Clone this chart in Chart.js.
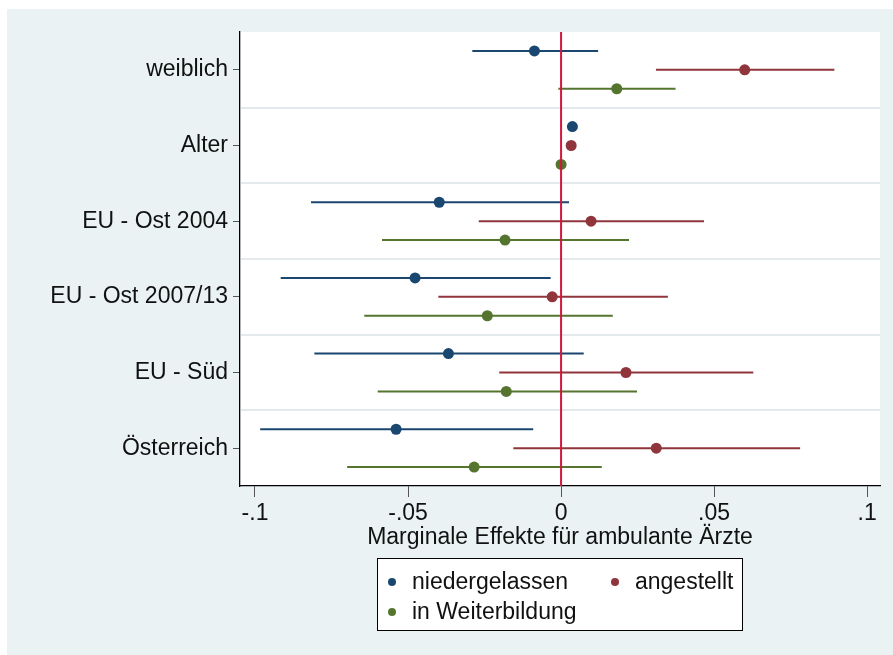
<!DOCTYPE html>
<html>
<head>
<meta charset="utf-8">
<script src="https://cdn.jsdelivr.net/npm/chart.js@4.4.0/dist/chart.umd.min.js"></script>
<style>
  html, body { margin: 0; padding: 0; background: #fff; }
  #wrap { width: 893px; height: 655px; }
</style>
</head>
<body>
<div id="wrap"><canvas id="coef-chart" width="893" height="655"></canvas></div>
<script>
// categories, top to bottom
var categories = ['weiblich', 'Alter', 'EU - Ost 2004', 'EU - Ost 2007/13', 'EU - Süd', 'Österreich'];
var xTicks = [-0.1, -0.05, 0, 0.05, 0.1];

// point estimates and confidence bounds per group
var niedergelassen   = [-0.0087, 0.0037, -0.0398, -0.0477, -0.0368, -0.0539];
var niedergelassenLo = [-0.0290, 0.0033, -0.0817, -0.0916, -0.0806, -0.0983];
var niedergelassenHi = [ 0.0121, 0.0041,  0.0026, -0.0034,  0.0074, -0.0091];

var angestellt   = [0.0600, 0.0033,  0.0098, -0.0029,  0.0212,  0.0311];
var angestelltLo = [0.0310, 0.0029, -0.0269, -0.0401, -0.0202, -0.0156];
var angestelltHi = [0.0893, 0.0037,  0.0467,  0.0349,  0.0628,  0.0781];

var weiterbildung   = [ 0.0182, 0.0000, -0.0183, -0.0241, -0.0179, -0.0284];
var weiterbildungLo = [-0.0009, -0.0004, -0.0585, -0.0643, -0.0599, -0.0699];
var weiterbildungHi = [ 0.0374, 0.0004,  0.0222,  0.0169,  0.0248,  0.0133];

var FONT = "'Liberation Sans', Arial, sans-serif";

function points(values, offset) {
	return values.map(function (v, i) { return {x: v, y: i + offset}; });
}

function fmtTick(v) {
	if (v === 0) return '0';
	return (v < 0 ? '-' : '') + String(Math.abs(v)).replace(/^0/, '');
}

var backgroundPlugin = {
	id: 'stataBackground',
	beforeDraw: function (chart) {
		var ctx = chart.ctx, a = chart.chartArea;
		ctx.save();
		ctx.fillStyle = '#eaf2f3';
		ctx.fillRect(7, 9, chart.width - 7, chart.height - 9);
		ctx.fillStyle = '#ffffff';
		ctx.fillRect(a.left, a.top, a.right - a.left, a.bottom - a.top);
		ctx.restore();
	},
	beforeDatasetsDraw: function (chart) {
		var ctx = chart.ctx, a = chart.chartArea;
		var yScale = chart.scales.y, xScale = chart.scales.x;
		ctx.save();
		// separators between the coefficient groups
		ctx.strokeStyle = '#e4eaeb';
		ctx.lineWidth = 2;
		for (var k = 0; k < categories.length - 1; k++) {
			var py = Math.round(yScale.getPixelForValue(k + 0.5));
			ctx.beginPath();
			ctx.moveTo(a.left + 1, py);
			ctx.lineTo(a.right, py);
			ctx.stroke();
		}
		// confidence intervals
		chart.data.datasets.forEach(function (ds) {
			ctx.strokeStyle = ds.borderColor;
			ctx.lineWidth = 2;
			ds.data.forEach(function (p, i) {
				var py = yScale.getPixelForValue(p.y);
				ctx.beginPath();
				ctx.moveTo(xScale.getPixelForValue(ds.lo[i]), py);
				ctx.lineTo(xScale.getPixelForValue(ds.hi[i]), py);
				ctx.stroke();
			});
		});
		ctx.restore();
	},
	afterDatasetsDraw: function (chart) {
		var ctx = chart.ctx, a = chart.chartArea;
		var px = chart.scales.x.getPixelForValue(0);
		ctx.save();
		ctx.strokeStyle = '#d2163e';
		ctx.lineWidth = 2;
		ctx.beginPath();
		ctx.moveTo(px, a.top);
		ctx.lineTo(px, a.bottom);
		ctx.stroke();
		ctx.restore();
	},
	afterDraw: function (chart) {
		// legend box like stata: two columns
		var ctx = chart.ctx;
		var ds = chart.data.datasets;
		var spots = [[392, 582], [615, 582], [392, 612]];
		ctx.save();
		ctx.fillStyle = '#ffffff';
		ctx.fillRect(377.5, 558.5, 365, 72);
		ctx.strokeStyle = '#000';
		ctx.lineWidth = 1;
		ctx.strokeRect(377.5, 558.5, 365, 72);
		ctx.font = '23px ' + FONT;
		ctx.textBaseline = 'middle';
		ds.forEach(function (d, i) {
			var s = spots[i];
			ctx.fillStyle = d.backgroundColor;
			ctx.beginPath();
			ctx.arc(s[0], s[1], 4, 0, Math.PI * 2);
			ctx.fill();
			ctx.fillStyle = '#111';
			ctx.fillText(d.label, s[0] + 20, s[1] + 1);
		});
		ctx.restore();
	}
};

new Chart('coef-chart', {
	type: 'scatter',
	data: {
		datasets: [
			{
				label: 'niedergelassen',
				data: points(niedergelassen, -0.25),
				lo: niedergelassenLo,
				hi: niedergelassenHi,
				backgroundColor: '#1a476f',
				borderColor: '#1a476f',
				pointRadius: 5.5,
				pointBorderWidth: 0
			},
			{
				label: 'angestellt',
				data: points(angestellt, 0),
				lo: angestelltLo,
				hi: angestelltHi,
				backgroundColor: '#90353b',
				borderColor: '#90353b',
				pointRadius: 5.5,
				pointBorderWidth: 0
			},
			{
				label: 'in Weiterbildung',
				data: points(weiterbildung, 0.25),
				lo: weiterbildungLo,
				hi: weiterbildungHi,
				backgroundColor: '#55752f',
				borderColor: '#55752f',
				pointRadius: 5.5,
				pointBorderWidth: 0
			}
		]
	},
	options: {
		responsive: false,
		animation: false,
		layout: {
			padding: {left: 0, top: 32, right: 13, bottom: 100}
		},
		plugins: {
			legend: {display: false},
			tooltip: {enabled: false}
		},
		scales: {
			x: {
				type: 'linear',
				min: -0.1049,
				max: 0.1042,
				afterBuildTicks: function (axis) {
					axis.ticks = xTicks.map(function (v) { return {value: v}; });
				},
				afterFit: function (axis) { axis.height = 69; },
				ticks: {
					callback: function (v) { return fmtTick(v); },
					color: '#111',
					padding: 3,
					maxRotation: 0,
					font: {family: FONT, size: 23}
				},
				grid: {drawOnChartArea: false, drawTicks: true, tickLength: 11, color: '#555'},
				border: {display: true, color: '#000', width: 1.3},
				title: {
					display: true,
					text: 'Marginale Effekte für ambulante Ärzte',
					color: '#111',
					font: {family: FONT, size: 23},
					padding: {top: 0, bottom: 4}
				}
			},
			y: {
				type: 'linear',
				reverse: true,
				min: -0.5,
				max: 5.5,
				afterBuildTicks: function (axis) {
					axis.ticks = categories.map(function (c, i) { return {value: i}; });
				},
				afterFit: function (axis) { axis.width = 240; },
				ticks: {
					callback: function (v) { return categories[v]; },
					color: '#111',
					padding: 5,
					font: {family: FONT, size: 23}
				},
				grid: {drawOnChartArea: false, drawTicks: true, tickLength: 7, color: '#555'},
				border: {display: true, color: '#000', width: 1.3}
			}
		}
	},
	plugins: [backgroundPlugin]
});
</script>
</body>
</html>
